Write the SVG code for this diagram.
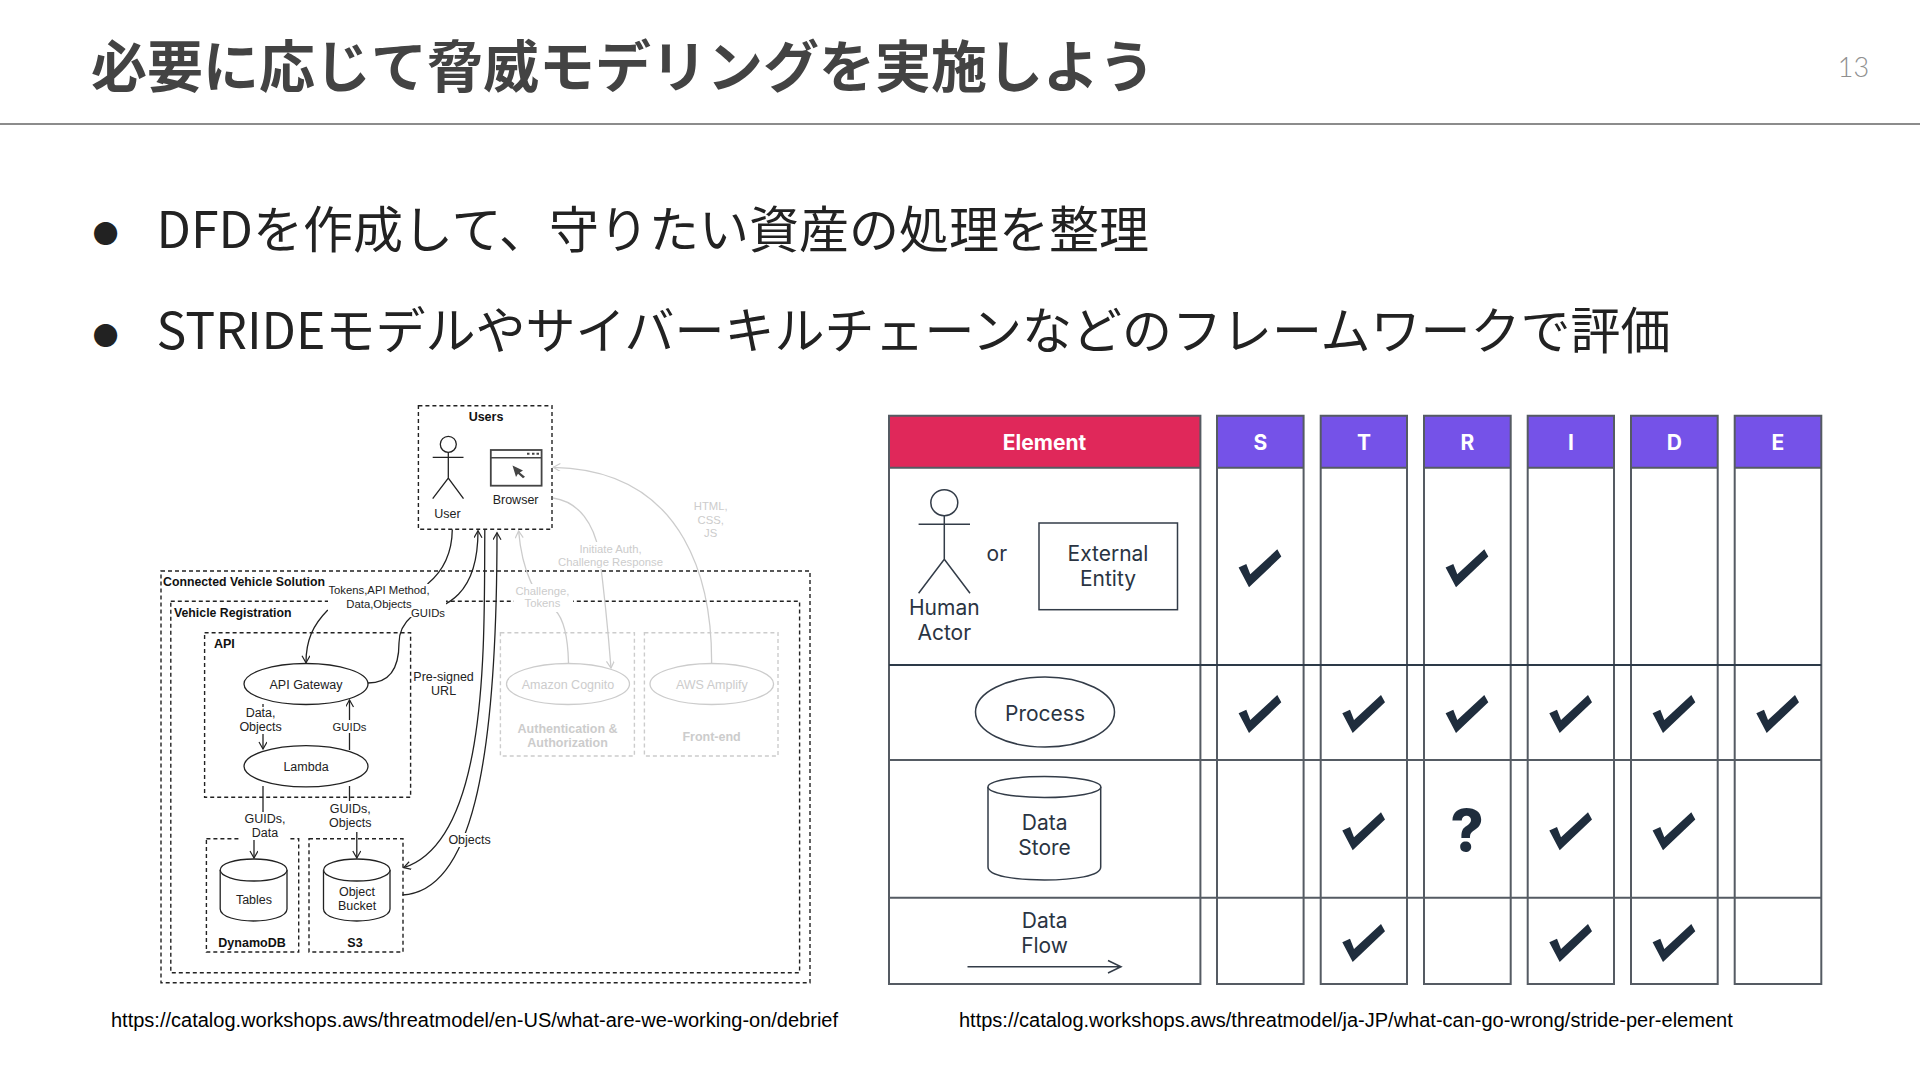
<svg xmlns="http://www.w3.org/2000/svg" width="1920" height="1080" viewBox="0 0 1920 1080">
<defs>
<style>
text{font-family:"Liberation Sans",Arial,sans-serif}
.jp{font-family:"Noto Sans CJK JP","Noto Sans",sans-serif}
.title{font-size:56px;font-weight:700;fill:#434343}
.body{font-size:50px;font-weight:400;fill:#222}
.dot{font-size:25.7px;fill:#222}
.cap{font-size:20px;fill:#000}
.d{font-size:12.5px;fill:#222;text-anchor:middle}
.n{font-size:11.3px}
.b{font-weight:700;fill:#111}
.g{fill:#ccc}
.box{fill:none;stroke:#222;stroke-width:1.4;stroke-dasharray:4 3}
.gbox{fill:none;stroke:#ccc;stroke-width:1.4;stroke-dasharray:4 3}
.s{fill:#fff;stroke:#222;stroke-width:1.3}
.gs{fill:#fff;stroke:#ccc;stroke-width:1.3}
.l{fill:none;stroke:#222;stroke-width:1.3}
.gl{fill:none;stroke:#ccc;stroke-width:1.3}
.t{font-family:Inter,"Liberation Sans",sans-serif;font-size:21px;fill:#2a3442;text-anchor:middle}
.h{font-family:Inter,"Liberation Sans",sans-serif;font-size:21px;font-weight:700;fill:#fff;text-anchor:middle}
.v{stroke:#555b63;stroke-width:2;fill:none}
.e{fill:#fff;stroke:#333c48;stroke-width:1.5}
.tl{fill:none;stroke:#333c48;stroke-width:1.5}
</style>
<marker id="a" markerWidth="10" markerHeight="10" refX="8" refY="4" orient="auto" markerUnits="userSpaceOnUse"><path d="M1 0L8 4L1 8" fill="none" stroke="#222" stroke-width="1.2"/></marker>
<marker id="ga" markerWidth="10" markerHeight="10" refX="8" refY="4" orient="auto" markerUnits="userSpaceOnUse"><path d="M1 0L8 4L1 8" fill="none" stroke="#ccc" stroke-width="1.2"/></marker>
<path id="chk" d="M-21.7 18.3L-14 14.7L-10 25L17 0L21 7.3L-11.3 38Z" fill="#1f2d3d"/>
</defs>
<rect width="1920" height="1080" fill="#fff"/>
<g id="header">
<text class="jp title" x="91" y="87">必要に応じて脅威モデリングを実施しよう</text>
<line x1="0" y1="124" x2="1920" y2="124" stroke="#666" stroke-width="1.5"/>
<text x="1853.5" y="77" text-anchor="middle" style="font-family:Lato,sans-serif;font-size:27px;font-weight:300;fill:#8f8f8f">13</text>
</g>
<g id="bullets">
<text class="jp dot" x="92.7" y="243">●</text>
<text class="jp body" x="156.5" y="248">DFDを作成して、守りたい資産の処理を整理</text>
<text class="jp dot" x="92.7" y="345">●</text>
<text class="jp body" x="156.5" y="349">STRIDEモデルやサイバーキルチェーンなどのフレームワークで評価</text>
</g>

<g id="dfd-containers">
<rect class="box" x="161" y="571" width="649" height="411.7"/>
<rect class="box" x="170.8" y="601.3" width="628.8" height="371.4"/>
<rect class="box" x="204.6" y="632.7" width="206" height="164.6"/>
<rect class="box" x="206.4" y="838.7" width="92.3" height="113.3"/>
<rect class="box" x="309" y="838.7" width="94" height="113.3"/>
<rect class="gbox" x="500.4" y="632.7" width="134" height="123.3"/>
<rect class="gbox" x="644.4" y="632.7" width="133.6" height="123.3"/>
<rect class="box" x="418.4" y="405.7" width="133.6" height="123.6"/>
</g>
<g id="dfd-connectors">
<path class="gl" marker-end="url(#ga)" d="M553 498C580 502 594 525 599 552C604 590 608 630 611 668"/>
<path class="gl" marker-end="url(#ga)" d="M568.5 663C568 640 565 620 555 610C535 600 522 570 518.6 531"/>
<path class="gl" marker-end="url(#ga)" d="M711.6 663C712 590 690 470 553.3 467.3"/>
<path class="l" d="M452.3 529.5C452 555 442 572 427.5 584"/>
<path class="l" marker-end="url(#a)" d="M327.8 610C313 625 306 640 306 662.7"/>
<path class="l" marker-end="url(#a)" d="M368 683C395 683 399 660 399 643C399 630 405 622 412 616C430 608 478 610 478 530.7"/>
<path class="l" marker-end="url(#a)" d="M484.8 530C484 640 490 840 403.7 867.7"/>
<path class="l" marker-end="url(#a)" d="M402.4 895C470 892 497 770 497 532.7"/>
<path class="l" marker-end="url(#a)" d="M263 704V749"/>
<path class="l" marker-end="url(#a)" d="M349.5 750V700"/>
<path class="l" d="M263 786V812"/>
<path class="l" marker-end="url(#a)" d="M254 840V858"/>
<path class="l" d="M349.5 786V801"/>
<path class="l" marker-end="url(#a)" d="M356.8 832V858"/>
</g>
<g id="dfd-label-masks" fill="#fff">
<rect x="328" y="584" width="103" height="27"/>
<rect x="410" y="600" width="36" height="17"/>
<rect x="514" y="584" width="59" height="28"/>
<rect x="237" y="707" width="48" height="27"/>
<rect x="330" y="720" width="40" height="13"/>
<rect x="240" y="812" width="50" height="28"/>
<rect x="328" y="801" width="46" height="30"/>
<rect x="447" y="833" width="46" height="14"/>
<rect x="555" y="542" width="112" height="27"/>
<rect x="695" y="500" width="34" height="40"/>
<rect x="417" y="672" width="54" height="26"/>
</g>
<g id="dfd-users">
<text class="d b" x="486" y="421">Users</text>
<ellipse class="l" cx="448.3" cy="444.3" rx="8" ry="8"/>
<path class="l" d="M432.7 457.3H463.5M448.3 452.3V478M432.7 498.7L448.3 478L463.5 498.7"/>
<text class="d" x="447.5" y="518">User</text>
<rect x="490.8" y="450" width="50.8" height="35.7" fill="#fff" stroke="#444" stroke-width="1.8"/>
<path d="M490.8 457.7H541.6" stroke="#444" stroke-width="1.6"/>
<path d="M527 453.7h2.5M532 453.7h2.5M536.5 453.7h2.5" stroke="#444" stroke-width="2"/>
<path d="M512.5 465.5L523 470.5L519.8 472.4L525 476.8L523 478.2L518 473.7L516 477Z" fill="#444"/>
<text class="d" x="515.6" y="504">Browser</text>
</g>
<g id="dfd-labels">
<text class="d b" x="163" y="586" style="text-anchor:start;font-size:12.3px">Connected Vehicle Solution</text>
<text class="d b" x="174" y="616.7" style="text-anchor:start;font-size:12.3px">Vehicle Registration</text>
<text class="d b" x="214" y="647.7" style="text-anchor:start">API</text>
<text class="d n" x="379" y="594">Tokens,API Method,</text>
<text class="d n" x="379" y="608">Data,Objects</text>
<text class="d n" x="428" y="617">GUIDs</text>
<text class="d" x="443.6" y="681">Pre-signed</text>
<text class="d" x="443.6" y="695">URL</text>
<text class="d" x="260.6" y="716.7">Data,</text>
<text class="d" x="260.6" y="730.7">Objects</text>
<text class="d n" x="349.5" y="730.7">GUIDs</text>
<text class="d" x="265" y="823.3">GUIDs,</text>
<text class="d" x="265" y="837.3">Data</text>
<text class="d" x="350.3" y="812.7">GUIDs,</text>
<text class="d" x="350.3" y="827.3">Objects</text>
<text class="d" x="469.6" y="844">Objects</text>
<text class="d n g" x="710.7" y="510">HTML,</text>
<text class="d n g" x="710.7" y="523.5">CSS,</text>
<text class="d n g" x="710.7" y="537">JS</text>
<text class="d n g" x="610.5" y="553.3">Initiate Auth,</text>
<text class="d n g" x="610.5" y="566">Challenge Response</text>
<text class="d n g" x="542.4" y="594.7">Challenge,</text>
<text class="d n g" x="542.4" y="607.3">Tokens</text>
</g>
<g id="api-gateway"><ellipse class="s" cx="306" cy="684" rx="62" ry="20.5"/><text class="d" x="306" y="689">API Gateway</text></g>
<g id="lambda"><ellipse class="s" cx="306" cy="766.3" rx="62" ry="20.6"/><text class="d" x="306" y="771.3">Lambda</text></g>
<g id="cognito"><ellipse class="gs" cx="568" cy="684" rx="61.5" ry="20.5"/><text class="d g" x="568" y="689">Amazon Cognito</text>
<text class="d g" x="567.6" y="732.7" font-weight="700">Authentication &amp;</text><text class="d g" x="567.6" y="747.3" font-weight="700">Authorization</text></g>
<g id="amplify"><ellipse class="gs" cx="711.8" cy="684" rx="61.8" ry="20.5"/><text class="d g" x="711.8" y="689">AWS Amplify</text>
<text class="d g" x="711.6" y="740.7" font-weight="700">Front-end</text></g>
<g id="dynamodb">
<path class="s" d="M220.2 870V909C220.2 917 238 921 253.6 921C269 921 287 917 287 909V870"/>
<ellipse class="s" cx="253.6" cy="870" rx="33.4" ry="11"/>
<text class="d" x="254" y="903.5">Tables</text>
<text class="d b" x="252" y="946.5">DynamoDB</text>
</g>
<g id="s3">
<path class="s" d="M323.5 870V909C323.5 917 341 921 356.8 921C372 921 390 917 390 909V870"/>
<ellipse class="s" cx="356.8" cy="870" rx="33.2" ry="11"/>
<text class="d" x="357" y="895.7">Object</text>
<text class="d" x="357" y="910">Bucket</text>
<text class="d b" x="355" y="946.5">S3</text>
</g>

<g id="stride-headers">
<rect x="889" y="415.7" width="311.4" height="52" fill="#e0285a"/>
<rect x="1217" y="415.7" width="86.6" height="52" fill="#7552e8"/>
<rect x="1320.7" y="415.7" width="86.3" height="52" fill="#7552e8"/>
<rect x="1424" y="415.7" width="86.7" height="52" fill="#7552e8"/>
<rect x="1527.7" y="415.7" width="86.3" height="52" fill="#7552e8"/>
<rect x="1631" y="415.7" width="86.7" height="52" fill="#7552e8"/>
<rect x="1734.7" y="415.7" width="86.6" height="52" fill="#7552e8"/>
<text class="h" x="1044.5" y="449.7">Element</text>
<text class="h" x="1260.3" y="449.7">S</text>
<text class="h" x="1364" y="449.7">T</text>
<text class="h" x="1467.3" y="449.7">R</text>
<text class="h" x="1571" y="449.7">I</text>
<text class="h" x="1674.3" y="449.7">D</text>
<text class="h" x="1778" y="449.7">E</text>
</g>
<g id="stride-grid" class="v">
<path d="M889 415.7H1200.4V984H889ZM1217 415.7H1303.6V984H1217ZM1320.7 415.7H1407V984H1320.7ZM1424 415.7H1510.7V984H1424ZM1527.7 415.7H1614V984H1527.7ZM1631 415.7H1717.7V984H1631ZM1734.7 415.7H1821.3V984H1734.7Z"/>
<path d="M889 467.7H1200.4M1217 467.7H1303.6M1320.7 467.7H1407M1424 467.7H1510.7M1527.7 467.7H1614M1631 467.7H1717.7M1734.7 467.7H1821.3"/>
<path d="M889 665H1821.3" stroke="#2d3a48"/>
<path d="M889 760H1821.3M889 897.7H1821.3"/>
</g>
<g id="actor">
<ellipse class="tl" cx="944.3" cy="502.7" rx="13.5" ry="13"/>
<path class="tl" d="M918.6 524.3H970M944.3 515.7V559.3M918.6 593.3L944.3 559.3L970 593.3"/>
<text class="t" x="944.3" y="615">Human</text>
<text class="t" x="944.3" y="640">Actor</text>
<text class="t" x="996.8" y="560.5">or</text>
</g>
<g id="external-entity">
<rect class="e" x="1039" y="523" width="138.5" height="86.7"/>
<text class="t" x="1108" y="561">External</text>
<text class="t" x="1108" y="586">Entity</text>
</g>
<g id="process">
<ellipse class="e" cx="1045" cy="712" rx="69.5" ry="35"/>
<text class="t" x="1045" y="720.7">Process</text>
</g>
<g id="data-store">
<path class="e" d="M988 787V867C988 876 1015 880 1044.4 880C1074 880 1100.7 876 1100.7 867V787"/>
<ellipse class="e" cx="1044.4" cy="787" rx="56.4" ry="10.5"/>
<text class="t" x="1044.6" y="830">Data</text>
<text class="t" x="1044.6" y="855">Store</text>
</g>
<g id="data-flow">
<text class="t" x="1044.6" y="928">Data</text>
<text class="t" x="1044.6" y="953">Flow</text>
<path class="tl" d="M967.5 966.7H1121M1108 960.5L1121 966.7L1108 973"/>
</g>
<g id="checks">
<use href="#chk" x="1260.3" y="549.3"/><use href="#chk" x="1467.3" y="549.3"/>
<use href="#chk" x="1260.3" y="695"/><use href="#chk" x="1364" y="695"/><use href="#chk" x="1467.3" y="695"/><use href="#chk" x="1571" y="695"/><use href="#chk" x="1674.3" y="695"/><use href="#chk" x="1778" y="695"/>
<use href="#chk" x="1364" y="812.3"/><use href="#chk" x="1571" y="812.3"/><use href="#chk" x="1674.3" y="812.3"/>
<use href="#chk" x="1364" y="924"/><use href="#chk" x="1571" y="924"/><use href="#chk" x="1674.3" y="924"/>
<text x="1467" y="850.5" text-anchor="middle" style="font-family:Inter,sans-serif;font-size:58px;font-weight:800;fill:#1f2d3d">?</text>
</g>
<g id="captions">
<text class="cap" x="111" y="1027">https://catalog.workshops.aws/threatmodel/en-US/what-are-we-working-on/debrief</text>
<text class="cap" x="959" y="1027">https://catalog.workshops.aws/threatmodel/ja-JP/what-can-go-wrong/stride-per-element</text>
</g>
</svg>
